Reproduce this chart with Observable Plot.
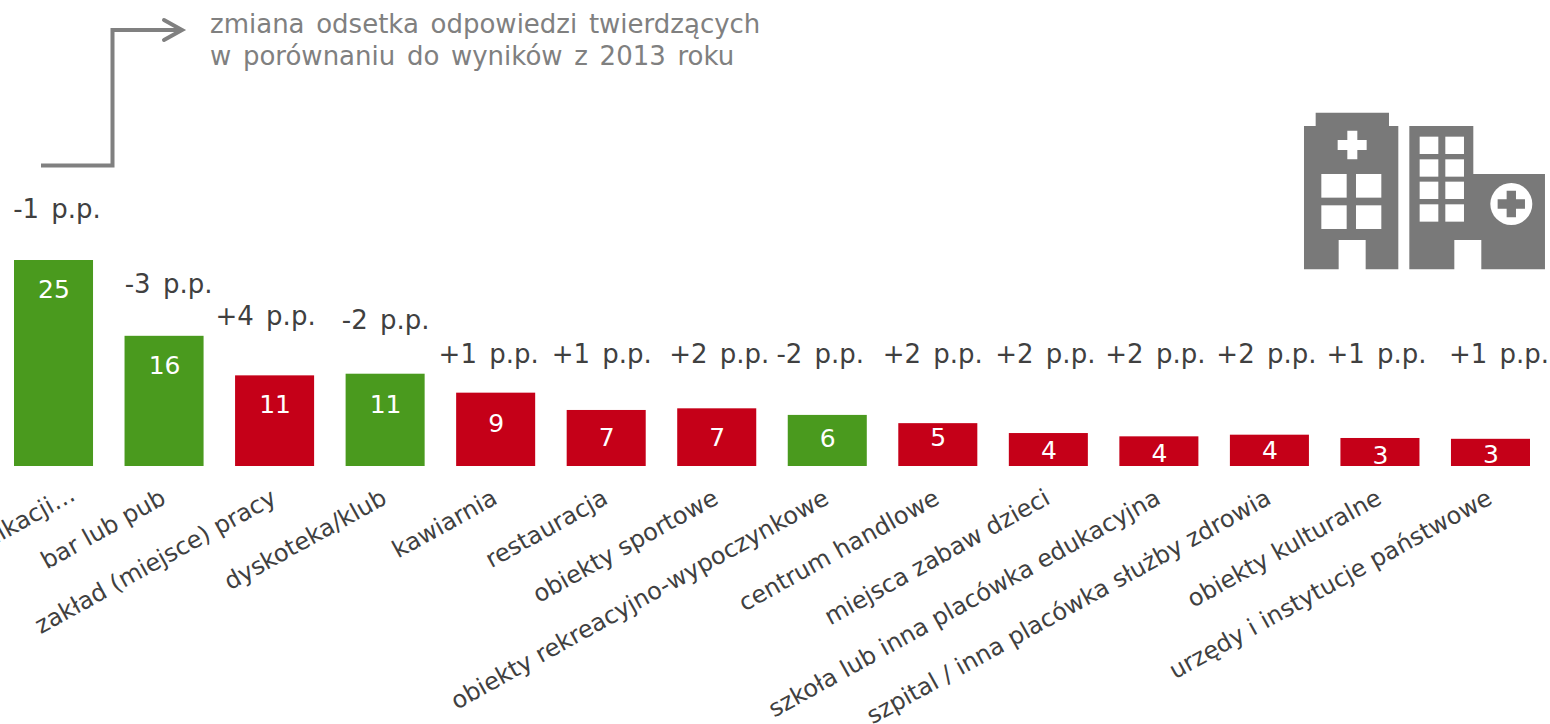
<!DOCTYPE html>
<html lang="pl">
<head>
<meta charset="utf-8">
<script src="https://cdn.jsdelivr.net/npm/d3@7"></script>
<script src="https://cdn.jsdelivr.net/npm/@observablehq/plot@0.6"></script>
<style>html,body{margin:0;padding:0;background:#fff;overflow:hidden}svg{display:block}</style>
</head>
<body>
<div id="chart"></div>
<script>
const categories = ["środki komunikacji…","bar lub pub","zakład (miejsce) pracy","dyskoteka/klub","kawiarnia","restauracja","obiekty sportowe","obiekty rekreacyjno-wypoczynkowe","centrum handlowe","miejsca zabaw dzieci","szkoła lub inna placówka edukacyjna","szpital / inna placówka służby zdrowia","obiekty kulturalne","urzędy i instytucje państwowe"];
const values = [25,15.8,11,11.2,8.9,6.8,7,6.2,5.2,4,3.6,3.8,3.4,3.3];
const valueLabels = [25,16,11,11,9,7,7,6,5,4,4,4,3,3];
const changes = ["-1 p.p.","-3 p.p.","+4 p.p.","-2 p.p.","+1 p.p.","+1 p.p.","+2 p.p.","-2 p.p.","+2 p.p.","+2 p.p.","+2 p.p.","+2 p.p.","+1 p.p.","+1 p.p."];
const trend = ["down","down","up","down","up","up","up","down","up","up","up","up","up","up"];
const noteLines = ["zmiana odsetka odpowiedzi twierdzących","w porównaniu do wyników z 2013 roku"];

// label placement, as in the hand-arranged original
const valueLevels = [21.4,12.2,7.5,7.5,5.2,3.5,3.5,3.3,3.4,1.94,1.46,1.94,1.26,1.38];
const changeLevels = [31.2,22.1,18.2,17.7,13.6,13.6,13.6,13.6,13.6,13.6,13.6,13.6,13.6,13.6];
const changeShift = [3,4,-9.5,0,-7.5,-5,2,-7.5,-5.5,-3.5,-4,-3.5,-4,8];

const FONT = "'DejaVu Sans', Verdana, sans-serif";
const rows = categories.map((c,i)=>({c,v:values[i],l:valueLabels[i],ch:changes[i],t:trend[i],vl:valueLevels[i],lv:changeLevels[i],dx:changeShift[i]}));

function decoration(){
  const g = d3.create("svg:g");
  const grey = "#797979";
  g.append("path").attr("d","M41 165.5H112.5V30H182").attr("fill","none").attr("stroke","#808080").attr("stroke-width",4);
  g.append("path").attr("d","M164 20L182 30L164 40").attr("fill","none").attr("stroke","#808080").attr("stroke-width",4).attr("stroke-linecap","round");
  noteLines.forEach((t,i)=>g.append("text").text(t).attr("x",210).attr("y",33+i*32)
    .attr("text-anchor","start").attr("fill","#808080").attr("font-size",26)
    .attr("word-spacing","3.4px").attr("font-family",FONT));
  const icon = g.append("g").attr("transform","translate(1290,100) scale(0.3333)");
  icon.append("path").attr("fill",grey).attr("d","M42 78H77V38H297V78H325V508H227V420H146V508H42Z");
  icon.append("path").attr("fill",grey).attr("d","M358 78H550V222H765V508H574V420H493V508H358Z");
  icon.append("path").attr("fill","#fff").attr("d","M172 92H202V120H230V150H202V178H172V150H143V120H172Z");
  for(const x of [94,198]) for(const y of [222,316])
    icon.append("rect").attr("x",x).attr("y",y).attr("width",76).attr("height",71).attr("fill","#fff");
  for(const x of [389,466]) for(const y of [110,178,245,313])
    icon.append("rect").attr("x",x).attr("y",y).attr("width",56).attr("height",52).attr("fill","#fff");
  icon.append("circle").attr("cx",664).attr("cy",312).attr("r",63).attr("fill","#fff");
  icon.append("path").attr("fill",grey).attr("d","M650 272H678V298H705V326H678V352H650V326H623V298H650Z");
  return g.node();
}

const axisStyle = {tickSize:0,tickRotate:-29,fontSize:24,color:"#404040",label:null,anchor:"bottom",y:0};
const chart = Plot.plot({
  width:1550, height:724, margin:0,
  style:{fontFamily:FONT, background:"#fff"},
  x:{domain:categories, range:[14,1530], paddingInner:0.285, paddingOuter:0, round:false, label:null},
  y:{domain:[0,25], range:[466,260], axis:null},
  color:{domain:["down","up"], range:["#4a9a1e","#c50018"]},
  marks:[
    Plot.barY(rows,{x:"c",y:"v",fill:"t"}),
    Plot.text(rows,{x:"c",y:"vl",text:"l",fill:"#fff",fontSize:25}),
    rows.map(d=>Plot.text([d],{x:"c",y:"lv",text:"ch",fill:"#404040",fontSize:26,dx:d.dx})),
    Plot.axisX({...axisStyle,ticks:categories.slice(1),tickPadding:29.5,dx:-1}),
    Plot.axisX({...axisStyle,ticks:categories.slice(0,1),tickPadding:26,dx:19}),
    decoration
  ]
});
chart.querySelectorAll("text").forEach(t=>{ if(/p\.p\./.test(t.textContent)) t.setAttribute("word-spacing","4px"); });
document.getElementById("chart").append(chart);
</script>
</body>
</html>
